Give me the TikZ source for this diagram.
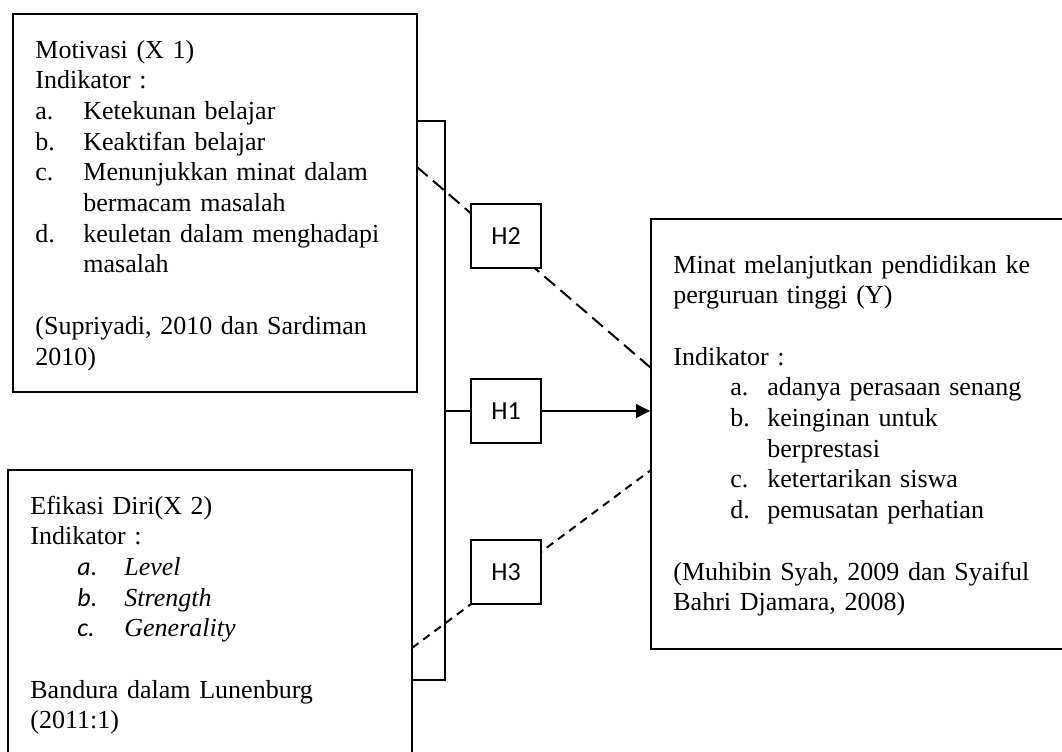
\documentclass[tikz,border=0pt]{standalone}
\usepackage{fontspec}
\setmainfont{Liberation Serif}
\newfontfamily\calib{Carlito}
\usetikzlibrary{arrows.meta}

\begin{document}
\begin{tikzpicture}[x=0.5pt,y=-0.5pt,
	varbox/.style={draw,line width=1pt,inner sep=0pt},
	hypo/.style={draw,line width=0.6pt,fill=white,inner sep=0pt,minimum width=35pt,minimum height=32pt,font=\calib\fontsize{13}{15}\selectfont},
	desc/.style={anchor=base west,inner sep=0pt,align=left,text width=215pt,font=\fontsize{13}{15.35}\selectfont},
	link/.style={line width=0.6pt},
	>={Triangle[length=7pt,width=7pt]}]
	\useasboundingbox (0,0) rectangle (1062,751);
	\clip (0,0) rectangle (1062,751);

	% variable boxes
	\node[varbox,minimum width=202pt,minimum height=189pt] (x1) at (215,203) {};
	\node[varbox,minimum width=202pt,minimum height=170pt] (x2) at (210,640) {};
	\node[varbox,minimum width=230pt,minimum height=215pt] (y) at (881,434) {};

	\node[desc] (x1txt) at (35,58) {Motivasi (X 1)\\
		Indikator :\\
		\makebox[24pt][l]{a.}Ketekunan belajar\\
		\makebox[24pt][l]{b.}Keaktifan belajar\\
		\makebox[24pt][l]{c.}Menunjukkan minat dalam\\
		\hspace*{24pt}bermacam masalah\\
		\makebox[24pt][l]{d.}keuletan dalam menghadapi\\
		\hspace*{24pt}masalah\\[15.35pt]
		(Supriyadi, 2010 dan Sardiman\\
		2010)};
	\node[desc] (x2txt) at (30,514) {Efikasi Diri(X 2)\\
		Indikator :\\
		\hspace*{23.5pt}\makebox[23.5pt][l]{\calib\itshape a.}\textit{Level}\\
		\hspace*{23.5pt}\makebox[23.5pt][l]{\calib\itshape b.}\textit{Strength}\\
		\hspace*{23.5pt}\makebox[23.5pt][l]{\calib\itshape c.}\textit{Generality}\\[15.35pt]
		Bandura dalam Lunenburg\\
		(2011:1)};
	\node[desc] (ytxt) at (673,273) {Minat melanjutkan pendidikan ke\\
		perguruan tinggi (Y)\\[15.35pt]
		Indikator :\\
		\hspace*{28.5pt}\makebox[18.5pt][l]{a.}adanya perasaan senang\\
		\hspace*{28.5pt}\makebox[18.5pt][l]{b.}keinginan untuk\\
		\hspace*{47pt}berprestasi\\
		\hspace*{28.5pt}\makebox[18.5pt][l]{c.}ketertarikan siswa\\
		\hspace*{28.5pt}\makebox[18.5pt][l]{d.}pemusatan perhatian\\[15.35pt]
		(Muhibin Syah, 2009 dan Syaiful\\
		Bahri Djamara, 2008)};

	% bracket and dashed paths
	\coordinate (bt) at (445,121);
	\coordinate (bb) at (445,680);
	\coordinate (d2a) at (417,167);
	\coordinate (d2b) at (651,368);
	\coordinate (d3a) at (412,648);
	\coordinate (d3b) at (651,470);
	\draw[link] (x1.east |- bt) -- (bt) -- (bb) -- (x2.east |- bb);
	\draw[line width=1pt,dash pattern=on 7pt off 3.5pt] (d2a) -- (d2b);
	\draw[line width=1pt,dash pattern=on 4pt off 3pt] (d3a) -- (d3b);

	% hypotheses
	\node[hypo] (h2) at (506,236) {H2};
	\node[hypo] (h1) at (506,411) {H1};
	\node[hypo] (h3) at (506,572) {H3};
	\draw[link] (bt |- h1.west) -- (h1.west);
	\draw[link,->] (h1.east) -- (h1.east -| y.west);
\end{tikzpicture}
\end{document}
